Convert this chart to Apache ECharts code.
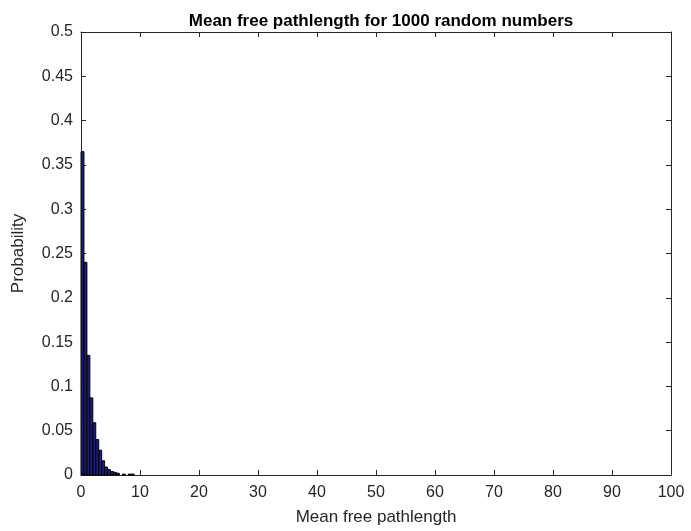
<!DOCTYPE html>
<html>
<head>
<meta charset="utf-8">
<script src="https://cdn.jsdelivr.net/npm/echarts@6/dist/echarts.min.js"></script>
<style>
html,body{margin:0;padding:0;background:#fff;}
#chart{width:691px;height:531px;}
</style>
</head>
<body>
<div id="chart"></div>
<script>
// Histogram bins (width 0.5), left edges and probabilities
var binWidth = 0.5;
var binLeft = [0, 0.5, 1, 1.5, 2, 2.5, 3, 3.5, 4, 4.5, 5, 5.5, 6, 6.5, 7, 7.5, 8, 8.5];
var probability = [0.365, 0.240, 0.135, 0.087, 0.059, 0.040, 0.028, 0.016, 0.009, 0.006, 0.004, 0.003, 0.002, 0, 0.001, 0, 0.001, 0.001];
var xTicks = [0, 10, 20, 30, 40, 50, 60, 70, 80, 90, 100];
var yTicks = [0, 0.05, 0.1, 0.15, 0.2, 0.25, 0.3, 0.35, 0.4, 0.45, 0.5];

var data = binLeft.map(function (l, i) { return [l, l + binWidth, probability[i]]; });

var chart = echarts.init(document.getElementById('chart'));
var font = 'Liberation Sans, Arial, Helvetica, sans-serif';
var axisCommon = {
  axisLine: { show: true, onZero: false, lineStyle: { color: '#262626', width: 1 } },
  axisTick: { show: true, inside: true, length: 5, lineStyle: { color: '#262626' } },
  splitLine: { show: false }
};
chart.setOption({
  animation: false,
  backgroundColor: '#fff',
  title: {
    text: 'Mean free pathlength for 1000 random numbers',
    left: 376, top: 8, textAlign: 'center',
    textStyle: { fontFamily: font, fontSize: 17, fontWeight: 'bold', color: '#000' }
  },
  grid: { left: 81, right: 20, top: 32, bottom: 56 },
  xAxis: [
    Object.assign({
      type: 'value', min: 0, max: 100, interval: 10, position: 'bottom',
      name: 'Mean free pathlength', nameLocation: 'middle', nameGap: 34,
      nameTextStyle: { fontFamily: font, fontSize: 17, color: '#262626' },
      axisLabel: { fontFamily: font, fontSize: 16, color: '#262626', margin: 10,
        formatter: function (v) { return xTicks.indexOf(v) >= 0 ? String(v) : ''; } }
    }, axisCommon),
    Object.assign({
      type: 'value', min: 0, max: 100, interval: 10, position: 'top',
      axisLabel: { show: false }
    }, axisCommon)
  ],
  yAxis: [
    Object.assign({
      type: 'value', min: 0, max: 0.5, interval: 0.05, position: 'left',
      name: 'Probability', nameLocation: 'middle', nameGap: 54,
      nameTextStyle: { fontFamily: font, fontSize: 17, color: '#262626' },
      axisLabel: { fontFamily: font, fontSize: 16, color: '#262626', margin: 8,
        formatter: function (v) {
          var m = yTicks.filter(function (t) { return Math.abs(t - v) < 1e-9; });
          return m.length ? String(Math.round(m[0] * 100) / 100) : '';
        } }
    }, axisCommon),
    Object.assign({
      type: 'value', min: 0, max: 0.5, interval: 0.05, position: 'right',
      axisLabel: { show: false }
    }, axisCommon)
  ],
  series: [{
    type: 'custom',
    xAxisIndex: 0, yAxisIndex: 0,
    data: data,
    encode: { x: [0, 1], y: 2 },
    renderItem: function (params, api) {
      var p0 = api.coord([api.value(0), api.value(2)]);
      var p1 = api.coord([api.value(1), 0]);
      if (api.value(2) <= 0) return null;
      return {
        type: 'rect',
        shape: { x: p0[0], y: p0[1], width: p1[0] - p0[0], height: p1[1] - p0[1] },
        style: { fill: '#1d1a7a', stroke: '#000', lineWidth: 1 }
      };
    }
  }]
});
</script>
</body>
</html>
